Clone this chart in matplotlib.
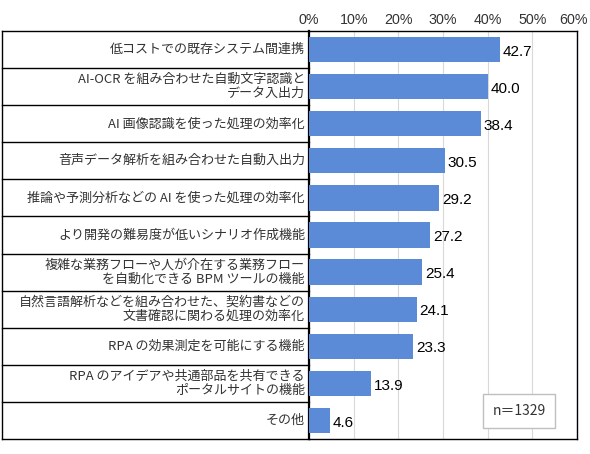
import matplotlib
matplotlib.use('Agg')
import matplotlib.pyplot as plt
import matplotlib.transforms as mtransforms

plt.rcParams['font.family'] = ['Noto Sans CJK JP', 'DejaVu Sans']

labels = [
    '低コストでの既存システム間連携',
    'AI-OCR を組み合わせた自動文字認識と\nデータ入出力',
    'AI 画像認識を使った処理の効率化',
    '音声データ解析を組み合わせた自動入出力',
    '推論や予測分析などの AI を使った処理の効率化',
    'より開発の難易度が低いシナリオ作成機能',
    '複雑な業務フローや人が介在する業務フロー\nを自動化できる BPM ツールの機能',
    '自然言語解析などを組み合わせた、契約書などの\n文書確認に関わる処理の効率化',
    'RPA の効果測定を可能にする機能',
    'RPA のアイデアや共通部品を共有できる\nポータルサイトの機能',
    'その他',
]
values = [42.7, 40.0, 38.4, 30.5, 29.2, 27.2, 25.4, 24.1, 23.3, 13.9, 4.6]
ticks = [0, 10, 20, 30, 40, 50, 60]
n_text = 'n＝1329'

fig = plt.figure(figsize=(5.9, 4.54), dpi=100)
ax = fig.add_axes([309/590, 1-439/454, (577-309)/590, (439-31)/454])

ypos = list(range(len(labels)))
ax.barh(ypos, values, height=0.68, color='#5b8bd6', zorder=3)
ax.set_ylim(len(labels)-0.5, -0.5)
ax.set_xlim(0, 60)

ax.set_xticks(ticks)
ax.set_xticklabels([f'{t}%' for t in ticks], fontsize=10.3, color='#333333',
                   family=['Liberation Sans', 'DejaVu Sans'])
ax.xaxis.tick_top()
ax.tick_params(axis='x', length=0, pad=3)
ax.set_yticks([])
ax.grid(axis='x', color='#d9d9d9', lw=0.8, zorder=0)

# last tick label sits at the right edge of the figure; nudge it in a little
last = ax.get_xticklabels()[-1]
last.set_transform(last.get_transform() + mtransforms.ScaledTranslation(-3/100, 0, fig.dpi_scale_trans))

for s in ax.spines.values():
    s.set_color('black')
    s.set_linewidth(1)
ax.spines['left'].set_linewidth(1.6)

for y, v in zip(ypos, values):
    ax.text(v + 0.6, y + 0.06, f'{v:.1f}', va='center', ha='left', fontsize=11,
            family=['Liberation Sans', 'DejaVu Sans'], color='black', zorder=4)

# label column (table-like box on the left)
x0 = (2 - 309) / (577 - 309)
tr = mtransforms.blended_transform_factory(ax.transAxes, ax.transData)
for i in range(len(labels) + 1):
    ax.plot([x0, 0], [i - 0.5, i - 0.5], color='black', lw=1, transform=tr, clip_on=False)
ax.plot([x0, x0], [-0.5, len(labels) - 0.5], color='black', lw=1, transform=tr, clip_on=False)

for y, lab in zip(ypos, labels):
    ax.text(-0.015, y, lab, transform=tr, ha='right', va='center', multialignment='right',
            fontsize=9.4, linespacing=1.08, color='#333333')

ax.text(47.0, 9.75, n_text, ha='center', va='center', fontsize=10, color='#333333', zorder=5,
        bbox=dict(boxstyle='square,pad=0.7', fc='white', ec='#bfbfbf', lw=1))

fig.savefig('out.png', dpi=100)
